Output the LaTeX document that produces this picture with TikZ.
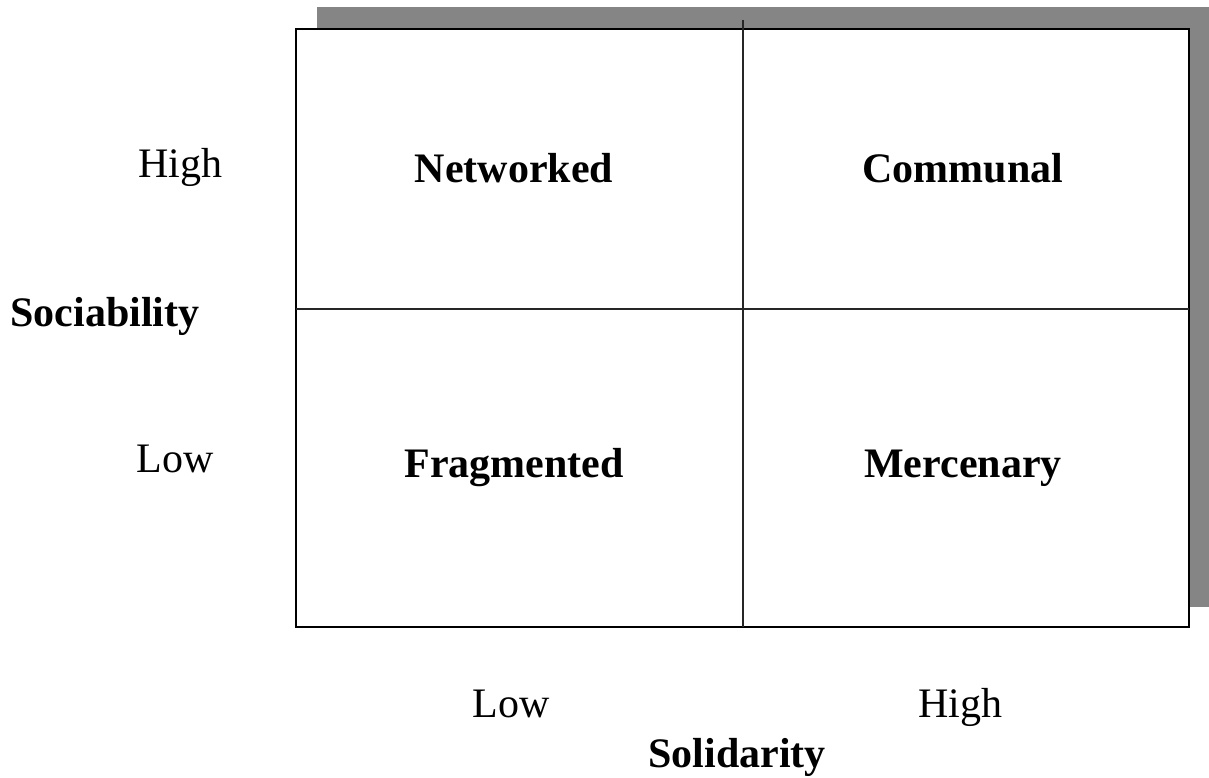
\documentclass[tikz,border=0pt]{standalone}
\usepackage{fontspec}
\setmainfont{Liberation Serif}
\begin{document}
\begin{tikzpicture}[x=0.5pt,y=-0.5pt,
  lbl/.style={font=\fontsize{21}{25}\selectfont, anchor=base, inner sep=0pt},
  cell/.style={lbl, font=\fontsize{21}{25}\selectfont\bfseries},
  frame/.style={draw=black, line width=1.3pt},
  divider/.style={draw=black!85, line width=1pt}]
\useasboundingbox (0,0) rectangle (1209,777);
% drop shadow behind the matrix
\fill[black!48] (317,7) rectangle (1209,607);
% matrix frame and dividers
\filldraw[fill=white, frame] (296,29) rectangle (1189,627);
\draw[divider] (743,20) -- (743,627);
\draw[divider] (296,309) -- (1189,309);
% quadrant names
\node[cell] (net)  at (514,182) {Networked};
\node[cell] (com)  at (963,182) {Communal};
\node[cell] (frag) at (514,477) {Fragmented};
\node[cell] (merc) at (963,477) {Mercenary};
% vertical axis
\node[lbl] (yhigh) at (180,177) {High};
\node[lbl] (ylow)  at (175,472) {Low};
\node[cell] (yaxis) at (105,326) {Sociability};
% horizontal axis
\node[lbl] (xlow)  at (511,717) {Low};
\node[lbl] (xhigh) at (960,717) {High};
\node[cell] (xaxis) at (737,767) {Solidarity};
\end{tikzpicture}
\end{document}
